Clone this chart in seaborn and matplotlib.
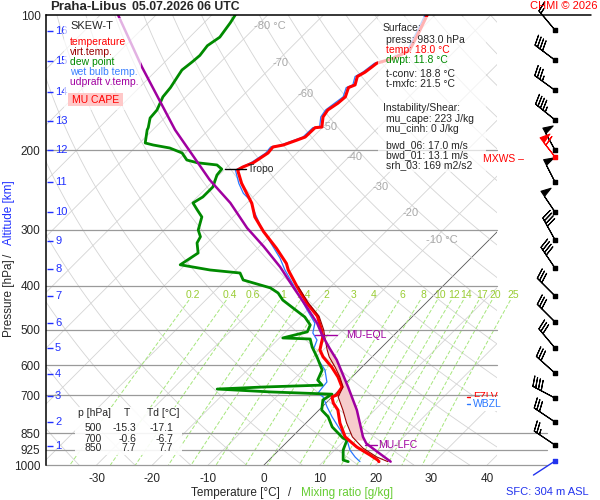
import numpy as np
import pandas as pd
import seaborn as sns
import matplotlib.pyplot as plt
from matplotlib.patches import Rectangle
from matplotlib.lines import Line2D
from matplotlib.ticker import NullLocator

# sounding (pressure hPa, temperature degC)
temp_p = [100, 108, 120, 125, 128, 130.5, 134, 137, 143, 145, 152, 157, 162.6, 168.5, 177.4, 178,
          186.7, 189.6, 194.5, 196.5, 202.6, 213, 217.7, 221, 236.6, 249, 262, 281, 303, 330, 356.6,
          368.7, 401, 437, 467, 501, 519.5, 555, 575, 606, 637.5, 671, 699, 706, 728, 755, 807, 866,
          912, 950, 975, 983]
temp_t = [-51.4, -50.0, -48.2, -49.8, -51.8, -52.0, -52.3, -52.9, -51.8, -52.5, -51.4, -51.6, -52.2,
          -51.8, -50.2, -51.3, -51.4, -52.3, -53.9, -55.4, -55.2, -56.1, -57.2, -57.6, -54.5, -51.8,
          -49.1, -46.1, -41.9, -36.6, -32.1, -30.6, -26.1, -21.3, -17.1, -13.9, -12.4, -10.6, -8.8,
          -5.4, -2.5, 0.0, 0.5, 0.0, 1.3, 3.4, 6.1, 9.5, 13.4, 17.2, 19.5, 20.0]

virt_p = [401, 437, 467, 501, 520, 555, 575, 606, 637, 671, 706, 755, 807, 866, 917, 960, 983]
virt_t = [-25.9, -21.0, -16.8, -13.5, -12.0, -9.3, -7.7, -4.8, -2.2, 0.2, 1.1, 4.3, 7.3, 10.8, 14.7,
          18.8, 21.6]

dwpt_p = [100, 104, 112, 117, 123, 127, 132.5, 137, 145, 152, 162.6, 169.4, 178, 180, 192.5, 194.5,
          197.5, 202.6, 210, 213, 215.4, 220, 226.8, 241, 253.7, 261.6, 271, 281, 300.5, 311, 321,
          338, 359, 368.7, 374.4, 388, 404, 414.7, 430, 448, 469, 488.5, 506, 522, 524.8, 547, 575,
          615, 647.5, 664.5, 671, 678, 688, 696, 717, 755, 782, 823, 871, 880, 926, 975, 983]
dwpt_t = [-85.8, -85.3, -84.6, -85.3, -84.9, -85.1, -85.5, -85.1, -84.4, -84.1, -82.8, -82.6, -81.2,
          -81.0, -79.0, -77.2, -73.7, -70.6, -68.5, -66.1, -62.2, -60.6, -60.4, -59.0, -59.0, -59.7,
          -57.7, -55.6, -53.9, -52.3, -51.8, -49.8, -50.9, -44.6, -38.7, -36.9, -30.6, -28.3, -26.2,
          -22.9, -19.2, -16.8, -16.1, -19.4, -14.3, -12.5, -9.9, -6.6, -5.6, -3.9, -14.2, -22.0,
          -12.0, -0.5, -1.1, 0.5, 2.9, 5.4, 9.3, 10.4, 11.5, 13.3, 14.5]

wetb_p = [100, 108, 120, 125, 128, 134, 137, 143, 145, 152, 162.6, 168.5, 177.4, 178, 186.7, 194.5,
          196.5, 202.6, 213, 221, 236.6, 249, 257.7, 276, 293, 311, 324.4, 347, 368.7, 398, 423, 452,
          484, 509, 527.5, 555, 584, 615, 654, 675, 692, 706, 743, 782, 823, 880, 926, 960, 983]
wetb_t = [-51.8, -50.4, -48.6, -50.2, -52.2, -52.7, -53.3, -52.2, -52.9, -51.8, -52.6, -52.2, -50.6,
          -51.7, -51.8, -54.3, -55.8, -55.6, -56.5, -58.0, -55.0, -52.4, -50.0, -46.7, -43.7, -40.4,
          -38.0, -34.2, -31.2, -27.0, -23.7, -20.1, -16.3, -14.9, -12.9, -11.8, -9.1, -6.1, -3.6,
          -3.4, -3.2, -1.6, 0.9, 3.6, 6.5, 10.4, 12.7, 14.9, 16.6]

parcel_p = [100, 130.5, 180, 232.6, 261.6, 297.4, 327, 363, 402, 446, 484, 514, 551, 584, 671, 755,
            866, 896, 933, 983]
parcel_t = [-106.8, -93.2, -76.0, -60.8, -53.0, -45.5, -39.2, -32.6, -26.7, -20.6, -15.9, -12.9,
            -9.1, -5.8, 1.1, 6.8, 12.7, 14.5, 17.8, 22.1]

tropo_p, tropo_t = 220, -57.6
eql_p, eql_t = 514, -12.9
lfc_p, lfc_t = 903, 15.1
cape_top, cape_bottom = 514, 880
fzl_p, wbzl_p = 706, 732

# altitude marks on the left axis
alt_km = [1, 2, 3, 4, 5, 6, 7, 8, 9, 10, 11, 12, 13, 14, 15, 16]
alt_p = [906, 803, 703, 628, 550, 483, 421, 367, 318, 274, 235, 200, 172, 148, 126.5, 108.5]

# wind profile
wind_p = [108, 126, 147, 171, 199.5, 235, 274, 316, 365, 421, 481, 549.5, 625, 710, 802.5, 903]
wind_spd = [15, 40, 35, 45, 50, 50, 50, 40, 40, 30, 30, 30, 30, 40, 30, 25]
wind_dir = [320, 307, 306, 309, 331, 333, 326, 331, 326, 315, 315, 320, 312, 298, 304, 304]
mxws_p, mxws_spd, mxws_dir = 206.5, 60, 322
sfc_wind_p, sfc_wind_dir = 980, 237

p_ticks = [100, 200, 300, 400, 500, 600, 700, 850, 925, 1000]
t_ticks = [-30, -20, -10, 0, 10, 20, 30, 40]
iso_lab_t = [-80, -70, -60, -50, -40, -30, -20, -10]
iso_lab_p = [106, 128, 150, 177, 207, 241, 275, 316]
mix_w = [0.2, 0.4, 0.6, 1, 1.4, 2, 3, 4, 6, 8, 10, 12, 14, 17, 20, 25]

tbl_p = [500, 700, 850]
tbl_t = [-15.3, -0.6, 7.7]
tbl_td = [-17.1, -6.7, 7.7]

SKEW = 80.65  # degC of shift per decade of pressure


def skew(t, p):
    return np.asarray(t, float) + SKEW * np.log10(1000.0 / np.asarray(p, float))


def td_from_w(w, p):
    e = w * p / (622.0 + w)
    a = np.log(e / 6.112)
    return 243.5 * a / (17.67 - a)


sns.set_style("white")
plt.rcParams['font.family'] = ['Liberation Sans', 'DejaVu Sans']
plt.rcParams['axes.unicode_minus'] = False

W, H = 600, 500
fig = plt.figure(figsize=(6, 5), dpi=100)


def fx(px):
    return px / W


def fy(py):
    return 1 - py / H


ax = fig.add_axes([fx(46), fy(465), 451 / W, 450 / H])
ax.set_facecolor('white')
ax.set_yscale('log')

# background: isotherms, dry adiabats, mixing ratio lines
pg = np.geomspace(100, 1000, 120)
for t in range(-130, 50, 10):
    ax.plot(skew(np.full_like(pg, t), pg), pg, color='#555555' if t == 0 else '#d4d4d4',
            lw=0.6, zorder=1)
for th in range(230, 480, 10):
    ax.plot(skew(th * (pg / 1000) ** 0.2857 - 273.15, pg), pg, color='#d4d4d4', lw=0.6, zorder=1)
pm = np.geomspace(430, 1000, 40)
for w in mix_w:
    ax.plot(skew(td_from_w(w, pm), pm), pm, color='#a6e67c', lw=0.7, dashes=(4, 2),
            zorder=1.1, clip_on=False)
    ax.text(skew(td_from_w(w, 419), 419), 419, f'{w:g}', color='#99cc33', fontsize=7.5,
            ha='center', va='center', zorder=1.2, clip_on=False)

for t, p in zip(iso_lab_t, iso_lab_p):
    lab = f'{t} °C' if t in (-80, -10) else f'{t}'
    ax.text(skew(t, p) - (0 if t == -10 else 0.4) + (1.5 if t == -10 else 0), p, lab,
            color='#a8a8a8', fontsize=8, ha='center' if t == -10 else 'left', va='center', zorder=1.2)

for p in p_ticks[1:]:
    ext = 1.111 if p >= 850 else 1.0
    ax.plot([0, ext], [p, p], transform=ax.get_yaxis_transform(), color='#9a9a9a', lw=0.9,
            zorder=1.5, clip_on=False)

# CAPE area between parcel and virtual temperature
pc = np.geomspace(cape_top, cape_bottom, 120)
tp = np.interp(np.log(pc), np.log(parcel_p), parcel_t)
tv = np.interp(np.log(pc), np.log(virt_p), virt_t)
ax.fill_betweenx(pc, skew(tv, pc), skew(tp, pc), where=tp > tv, color='#f6cccc', lw=0, zorder=2)

# sounding curves
sns.lineplot(x=skew(wetb_t, wetb_p), y=wetb_p, sort=False, estimator=None, color='#2a78ff',
             lw=0.9, ax=ax, zorder=3)
sns.lineplot(x=skew(dwpt_t, dwpt_p), y=dwpt_p, sort=False, estimator=None, color='#008a00',
             lw=2.0, ax=ax, zorder=3.1)
sns.lineplot(x=skew(temp_t, temp_p), y=temp_p, sort=False, estimator=None, color='#ff0000',
             lw=2.2, ax=ax, zorder=3.2)
sns.lineplot(x=skew(virt_t, virt_p), y=virt_p, sort=False, estimator=None, color='#990000',
             lw=0.8, ax=ax, zorder=3.3)
sns.lineplot(x=skew(parcel_t, parcel_p), y=parcel_p, sort=False, estimator=None, color='#a000a0',
             lw=1.8, ax=ax, zorder=3.4)

# markers
xt = skew(tropo_t, tropo_p)
ax.plot([xt - 2.44, xt + 1.33], [tropo_p, tropo_p], color='black', lw=1, zorder=4)
ax.text(xt + 1.7, tropo_p, 'Tropo', fontsize=7.5, va='center', ha='left', zorder=4)
xe = skew(eql_t, eql_p)
ax.plot([xe - 1.25, xe + 2.7], [eql_p, eql_p], color='#a000a0', lw=1, zorder=4)
ax.text(xe + 4.3, eql_p, 'MU-EQL', color='#a000a0', fontsize=7.5, va='center', zorder=4)
xl = skew(lfc_t, lfc_p)
ax.plot([xl - 0.5, xl + 1.5], [lfc_p, lfc_p], color='#a000a0', lw=1, zorder=4)
ax.text(xl + 1.7, lfc_p, 'MU-LFC', color='#a000a0', fontsize=7.5, va='center', zorder=4)

ytr = ax.get_yaxis_transform()
ax.plot([0.933, 0.944], [fzl_p, fzl_p], transform=ytr, color='red', lw=1, zorder=6)
ax.text(0.946, fzl_p, 'FZLV', transform=ytr, color='red', fontsize=7.5, va='center', zorder=6)
ax.plot([0.933, 0.944], [wbzl_p, wbzl_p], transform=ytr, color='#2a78ff', lw=1, zorder=7)
ax.text(0.946, wbzl_p, 'WBZL', transform=ytr, color='#2a78ff', fontsize=7.5, va='center',
        zorder=7, clip_on=False, bbox=dict(facecolor='white', edgecolor='none', pad=1.5))

# altitude scale
ax.hlines(alt_p, 0.003, 0.016, transform=ytr, color='#2030ff', lw=1, zorder=5)
for km, p in zip(alt_km, alt_p):
    ax.text(0.02, p, str(km), transform=ytr, color='#2030ff', fontsize=8, va='center', zorder=5)

ax.set_ylim(1000, 100)
ax.set_xlim(-39.07, 41.76)
ax.set_yticks(p_ticks)
ax.set_yticklabels([str(p) for p in p_ticks], fontsize=8.5)
ax.yaxis.set_minor_locator(NullLocator())
ax.set_xticks(t_ticks)
ax.set_xticklabels([str(t) for t in t_ticks], fontsize=8.5)
ax.tick_params(length=0, pad=4)
ax.tick_params(axis='x', pad=6)
ax.set_xlabel('')
ax.set_ylabel('')
for s in ['top', 'right', 'bottom']:
    ax.spines[s].set_visible(False)
ax.spines['left'].set_color('black')
ax.spines['left'].set_linewidth(1.1)
fig.add_artist(Line2D([fx(46), fx(591)], [fy(15), fy(15)], color='black', lw=1.1))

# wind barbs
bax = fig.add_axes([fx(497), fy(465), 103 / W, 450 / H])
bax.set_yscale('log')
bax.set_ylim(1000, 100)
bax.set_xlim(0, 1)
bax.axis('off')
bx = 0.563
d = np.radians(wind_dir)
spd = np.asarray(wind_spd, float)
bax.barbs(np.full(len(wind_p), bx), wind_p, -spd * np.sin(d), -spd * np.cos(d), length=6.0,
          lw=0.8, color='black', clip_on=False)
bax.scatter(np.full(len(wind_p), bx), wind_p, marker='s', s=9, color='black', zorder=3)
dm = np.radians(mxws_dir)
bax.barbs([bx], [mxws_p], [-mxws_spd * np.sin(dm)], [-mxws_spd * np.cos(dm)], length=6.0,
          lw=0.8, color='red', clip_on=False)
bax.scatter([bx], [mxws_p], marker='s', s=9, color='red', zorder=3)
# light surface wind: bare staff only
ds = np.radians(sfc_wind_dir)
staff_pt = 18.5
bax.annotate('', xy=(bx, sfc_wind_p), xytext=(staff_pt * np.sin(ds), staff_pt * np.cos(ds)),
             textcoords='offset points',
             arrowprops=dict(arrowstyle='-', color='#2233ee', lw=1, shrinkA=0, shrinkB=0))
bax.scatter([bx], [sfc_wind_p], marker='s', s=9, color='#2233ee', zorder=3)

# translucent boxes over the chart
fig.add_artist(Rectangle((fx(64), fy(110)), 77 / W, 92 / H, transform=fig.transFigure,
                         facecolor='white', alpha=0.7, edgecolor='none', zorder=1))
fig.add_artist(Rectangle((fx(378), fy(172)), 108 / W, 155 / H, transform=fig.transFigure,
                         facecolor='white', alpha=0.7, edgecolor='none', zorder=1))
fig.add_artist(Rectangle((fx(75), fy(455)), 107 / W, 48 / H, transform=fig.transFigure,
                         facecolor='white', alpha=0.9, edgecolor='none', zorder=1))
fig.add_artist(Rectangle((fx(68), fy(106)), 55 / W, 13 / H, transform=fig.transFigure,
                         facecolor='#ffc8c8', edgecolor='none', zorder=1.5))


def ftxt(px, py, s, **kw):
    kw.setdefault('fontsize', 7.5)
    kw.setdefault('va', 'center')
    fig.text(fx(px), fy(py), s, zorder=2, **kw)


# title and corner texts
ftxt(50, 7, 'Praha-Libus', fontsize=9.5, fontweight='bold')
ftxt(132, 7, '05.07.2026 06 UTC', fontsize=8.8, fontweight='bold')
ftxt(597, 6, 'CHMI © 2026', color='red', fontsize=8, ha='right')
ftxt(589, 492, 'SFC: 304 m ASL', color='#2233ee', fontsize=8, ha='right')

# axis titles
ftxt(280, 493, 'Temperature [°C]', fontsize=8.5, ha='right')
ftxt(290, 493, '/', fontsize=8.5, ha='center')
ftxt(301, 493, 'Mixing ratio [g/kg]', fontsize=8.5, color='#66cc33')
ftxt(9, 298, 'Pressure [hPa]', fontsize=8.5, rotation=90, ha='center')
ftxt(9, 255, '/', fontsize=8.5, rotation=90, ha='center')
ftxt(9, 213, 'Altitude [km]', fontsize=8.5, rotation=90, ha='center', color='#2030ff')

# legend
ftxt(70, 26, 'SKEW-T', fontsize=8)
ftxt(70, 42, 'temperature', color='#ff0000')
ftxt(70, 52, 'virt.temp.', color='#990000')
ftxt(70, 62, 'dew point', color='#008a00')
ftxt(70, 72, 'wet bulb temp.', color='#3a80ff')
ftxt(70, 82, 'udpraft v.temp.', color='#a000a0')
ftxt(95.5, 100, 'MU CAPE', color='red', ha='center')

# surface / instability box
ftxt(383, 28, 'Surface:')
ftxt(386, 40, 'press: 983.0 hPa')
ftxt(386, 50, 'temp: 18.0 °C', color='red')
ftxt(386, 60, 'dwpt: 11.8 °C', color='#008a00')
ftxt(386, 74, 't-conv: 18.8 °C')
ftxt(386, 84, 't-mxfc: 21.5 °C')
ftxt(383, 108, 'Instability/Shear:')
ftxt(386, 119, 'mu_cape: 223 J/kg')
ftxt(386, 129, 'mu_cinh: 0 J/kg')
ftxt(386, 145, 'bwd_06: 17.0 m/s')
ftxt(386, 155, 'bwd_01: 13.1 m/s')
ftxt(386, 165, 'srh_03: 169 m2/s2')
ftxt(483, 159, 'MXWS –', color='red')

# level table
ftxt(78, 413, 'p [hPa]')
ftxt(127, 413, 'T', ha='center')
ftxt(147, 413, 'Td [°C]')
for i, (p, t, td) in enumerate(zip(tbl_p, tbl_t, tbl_td)):
    yy = [428, 439, 448][i]
    ftxt(102, yy, str(p), ha='right')
    ftxt(136, yy, f'{t:.1f}', ha='right')
    ftxt(173, yy, f'{td:.1f}', ha='right')

fig.savefig('out.png', dpi=100, facecolor='white')
